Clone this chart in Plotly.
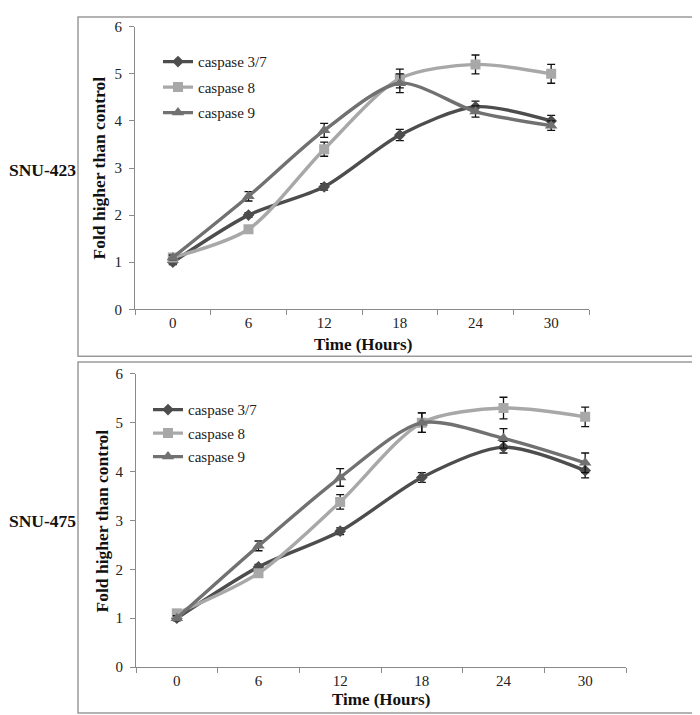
import plotly.graph_objects as go

hours = ["0", "6", "12", "18", "24", "30"]
series_names = ["caspase 3/7", "caspase 8", "caspase 9"]

snu423_c37 = [1.0, 2.0, 2.6, 3.7, 4.3, 4.0]
snu423_c8 = [1.1, 1.7, 3.4, 4.9, 5.2, 5.0]
snu423_c9 = [1.1, 2.4, 3.8, 4.8, 4.2, 3.9]
snu423_c37_err = [0.05, 0.05, 0.07, 0.12, 0.12, 0.12]
snu423_c8_err = [0.05, 0.05, 0.15, 0.2, 0.2, 0.2]
snu423_c9_err = [0.05, 0.1, 0.15, 0.2, 0.12, 0.1]

snu475_c37 = [1.0, 2.05, 2.78, 3.88, 4.5, 4.02]
snu475_c8 = [1.1, 1.92, 3.38, 5.0, 5.3, 5.12]
snu475_c9 = [1.0, 2.48, 3.88, 5.0, 4.68, 4.18]
snu475_c37_err = [0.05, 0.05, 0.07, 0.1, 0.12, 0.15]
snu475_c8_err = [0.05, 0.05, 0.15, 0.2, 0.22, 0.2]
snu475_c9_err = [0.05, 0.1, 0.18, 0.2, 0.2, 0.2]

panel_labels = ["SNU-423", "SNU-475"]

colors = ["#4d4d4d", "#a8a8a8", "#717171"]
symbols = ["diamond", "square", "triangle-up"]
msizes = [9, 10, 11]

SERIF = "Liberation Serif, Times New Roman, serif"
W, H = 700, 715
fig = go.Figure()

panels = [
    dict(vals=[snu423_c37, snu423_c8, snu423_c9],
         errs=[snu423_c37_err, snu423_c8_err, snu423_c9_err],
         xa="x", ya="y", legend="legend", tag="a"),
    dict(vals=[snu475_c37, snu475_c8, snu475_c9],
         errs=[snu475_c37_err, snu475_c8_err, snu475_c9_err],
         xa="x2", ya="y2", legend="legend2", tag="b"),
]

for p in panels:
    for i in range(3):
        fig.add_trace(go.Scatter(
            x=hours, y=p["vals"][i], name=series_names[i],
            mode="lines+markers",
            legendgroup=p["tag"] + str(i),
            line=dict(color=colors[i], width=3.4, shape="spline", smoothing=0.8),
            marker=dict(symbol=symbols[i], size=msizes[i], color=colors[i]),
            error_y=dict(type="data", array=p["errs"][i], color="#111111",
                         thickness=1.3, width=4),
            xaxis=p["xa"], yaxis=p["ya"], legend=p["legend"],
        ))

def px_x(v):
    return v / W

def px_y(v):
    return 1 - v / H

tickfont = dict(family=SERIF, size=15, color="#222222")
axis_common = dict(showgrid=False, zeroline=False, showline=True,
                   linecolor="#8a8a8a", linewidth=1, tickfont=tickfont,
                   ticks="outside", ticklen=5, tickcolor="#8a8a8a")

legfont = dict(family=SERIF, size=15, color="#222222")
fig.update_layout(
    width=W, height=H, margin=dict(l=0, r=0, t=0, b=0),
    paper_bgcolor="white", plot_bgcolor="white", showlegend=True,
    xaxis=dict(domain=[px_x(127), px_x(581)], anchor="y", type="category",
               tickson="boundaries", range=[-0.5, 5.5], **axis_common),
    yaxis=dict(domain=[px_y(300), px_y(11)], anchor="x", range=[0, 6],
               dtick=1, ticklabelstandoff=4, **axis_common),
    xaxis2=dict(domain=[px_x(128), px_x(618)], anchor="y2", type="category",
                tickson="boundaries", range=[-0.5, 5.5], **axis_common),
    yaxis2=dict(domain=[px_y(666), px_y(366)], anchor="x2", range=[0, 6],
                dtick=1, ticklabelstandoff=4, **axis_common),
    legend=dict(x=px_x(150), y=px_y(30), xanchor="left", yanchor="top",
                bgcolor="rgba(0,0,0,0)", tracegroupgap=3, itemwidth=30,
                font=legfont),
    legend2=dict(x=px_x(140), y=px_y(386), xanchor="left", yanchor="top",
                 bgcolor="rgba(0,0,0,0)", tracegroupgap=1, itemwidth=30,
                 font=legfont),
)

# panel frames
for (x0, y0, x1, y1) in [(70, 1, 697, 348), (70, 354, 697, 713)]:
    fig.add_shape(type="rect", xref="paper", yref="paper",
                  x0=px_x(x0), x1=px_x(x1), y0=px_y(y1), y1=px_y(y0),
                  line=dict(color="#9a9a9a", width=1.5))

title_font = dict(family=SERIF, size=17, color="#111111")
ytitle_font = dict(family=SERIF, size=17.5, color="#111111")
label_font = dict(family=SERIF, size=17.5, color="#111111")
ann = [
    (91, 156, "<b>Fold higher than control</b>", -90, ytitle_font),
    (355, 336, "<b>Time (Hours)</b>", 0, title_font),
    (94, 517, "<b>Fold higher than control</b>", -90, ytitle_font),
    (373, 699, "<b>Time (Hours)</b>", 0, title_font),
    (34, 158, "<b>" + panel_labels[0] + "</b>", 0, label_font),
    (34, 517, "<b>" + panel_labels[1] + "</b>", 0, label_font),
]
for (x, y, t, ang, f) in ann:
    fig.add_annotation(x=px_x(x), y=px_y(y), xref="paper", yref="paper",
                       text=t, showarrow=False, textangle=ang, font=f,
                       xanchor="center", yanchor="middle")

fig.write_html("out.html")
